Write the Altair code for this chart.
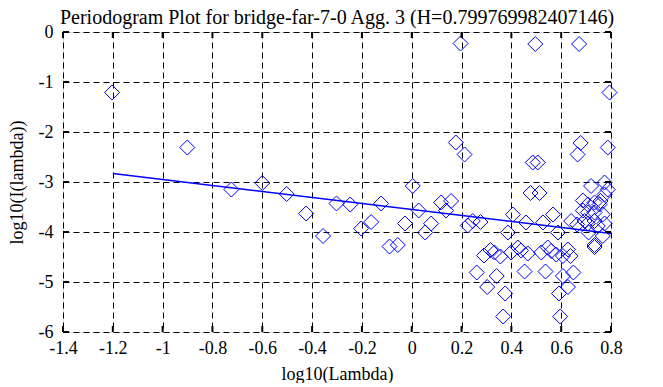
import altair as alt
import pandas as pd

# log10(Lambda) values of the periodogram points
x_vals = [
    -1.203, -0.901, -0.724, -0.600, -0.502, -0.424, -0.356, -0.302,
    0.196, 0.496, 0.672, 0.794, 0.177, 0.212, 0.486, 0.506, 0.678, 0.666, 0.787,
    -0.247, -0.123, -0.203, -0.163, -0.089, -0.056, 0.004, -0.027, 0.028, 0.054,
    0.078, 0.118, 0.158, 0.138,
    0.225, 0.245, 0.276, 0.386, 0.406, 0.459, 0.477, 0.513, 0.527, 0.567, 0.587,
    0.290, 0.316, 0.332, 0.356, 0.399, 0.426, 0.439, 0.466,
    0.520, 0.546, 0.560, 0.580, 0.607, 0.627, 0.637,
    0.261, 0.341, 0.303, 0.375, 0.367, 0.453, 0.537, 0.607, 0.649, 0.627, 0.591, 0.596,
    0.720, 0.774, 0.787, 0.774,
    0.687, 0.707, 0.734, 0.754, 0.758,
    0.687, 0.707, 0.734, 0.767,
    0.640, 0.664, 0.694, 0.707, 0.734, 0.747, 0.774,
    0.710, 0.767, 0.734, 0.734,
]
# log10(I(lambda)) values
y_vals = [
    -1.21, -2.31, -3.15, -3.02, -3.24, -3.63, -4.08, -3.43,
    -0.23, -0.24, -0.24, -1.21, -2.21, -2.45, -2.61, -2.61, -2.22, -2.45, -2.31,
    -3.45, -3.43, -3.93, -3.80, -4.29, -4.26, -3.08, -3.83, -3.57, -4.01,
    -3.83, -3.41, -3.38, -3.57,
    -3.87, -3.78, -3.80, -4.01, -3.65, -3.81, -3.22, -3.22, -3.81, -3.65, -4.01,
    -4.47, -4.36, -4.41, -4.49, -4.41, -4.31, -4.37, -4.43,
    -4.41, -4.31, -4.38, -4.45, -4.48, -4.35, -4.48,
    -4.81, -4.88, -5.10, -5.23, -5.69, -4.79, -4.79, -4.88, -4.81, -5.10, -5.23, -5.69,
    -3.08, -3.01, -3.15, -3.25,
    -3.37, -3.45, -3.41, -3.45, -3.38,
    -3.57, -3.61, -3.61, -3.65,
    -3.78, -3.85, -3.78, -3.83, -3.78, -3.88, -3.83,
    -4.01, -4.08, -4.26, -4.30,
]
# fitted line end points
fit_x = [-1.2, 0.8]
fit_y = [-2.83, -4.03]

x_ticks = [-1.4, -1.2, -1.0, -0.8, -0.6, -0.4, -0.2, 0.0, 0.2, 0.4, 0.6, 0.8]
y_ticks = [0, -1, -2, -3, -4, -5, -6]

title_text = "Periodogram Plot for bridge-far-7-0 Agg. 3 (H=0.799769982407146)"

FONT = "Liberation Serif"
W, H = 548, 300
BLUE = "#0000ff"

pts = pd.DataFrame({"x": x_vals, "y": y_vals})
fit = pd.DataFrame({"x": fit_x, "y": fit_y})
xt = pd.DataFrame({"x": x_ticks})
yt = pd.DataFrame({"y": y_ticks})

xscale = alt.Scale(domain=[-1.4, 0.8], nice=False, zero=False)
yscale = alt.Scale(domain=[-6, 0], nice=False, zero=False)

axis_style = dict(
    grid=True, gridColor="black", gridDash=[6, 4], gridWidth=1, gridOpacity=1,
    ticks=False, tickSize=0, domain=False,
    labelFont=FONT, labelFontSize=18, labelColor="black",
    labelFlush=False, labelOverlap=False, labelExpr="'' + datum.value",
    titleFont=FONT, titleFontSize=18, titleFontWeight="normal", titleColor="black",
)
xaxis = alt.Axis(
    values=x_ticks, title="log10(Lambda)", labelPadding=7,
    titleY=42, titleBaseline="middle", **axis_style,
)
yaxis = alt.Axis(
    values=y_ticks, title="log10(I(lambda))", labelPadding=10,
    titleX=-46, titleY=H / 2, titleBaseline="middle", titleAlign="center",
    titleAngle=-90, **axis_style,
)

points = alt.Chart(pts).mark_point(
    shape="diamond", filled=False, size=225, strokeWidth=1, color=BLUE, opacity=1
).encode(
    x=alt.X("x:Q", scale=xscale, axis=xaxis),
    y=alt.Y("y:Q", scale=yscale, axis=yaxis),
)

line = alt.Chart(fit).mark_line(color=BLUE, strokeWidth=1.5).encode(
    x=alt.X("x:Q", scale=xscale), y=alt.Y("y:Q", scale=yscale)
)

tick_style = dict(color="black", strokeWidth=2)
top_ticks = alt.Chart(xt).mark_rule(**tick_style).encode(
    x=alt.X("x:Q", scale=xscale), y=alt.value(0), y2=alt.value(6))
bot_ticks = alt.Chart(xt).mark_rule(**tick_style).encode(
    x=alt.X("x:Q", scale=xscale), y=alt.value(H - 6), y2=alt.value(H))
left_ticks = alt.Chart(yt).mark_rule(**tick_style).encode(
    y=alt.Y("y:Q", scale=yscale), x=alt.value(0), x2=alt.value(6))
right_ticks = alt.Chart(yt).mark_rule(**tick_style).encode(
    y=alt.Y("y:Q", scale=yscale), x=alt.value(W - 6), x2=alt.value(W))

chart = alt.layer(
    points, line, top_ticks, bot_ticks, left_ticks, right_ticks
).properties(
    width=W, height=H,
    title=alt.TitleParams(
        text=title_text, font=FONT, fontSize=20, fontWeight="normal",
        color="black", anchor="middle", offset=-5,
    ),
    autosize=alt.AutoSizeParams(type="pad"),
    padding={"left": 0, "top": 0, "right": 5, "bottom": 0},
).configure_axis(
    labelFont=FONT, titleFont=FONT, labelFontSize=18, titleFontSize=18,
).configure_title(
    font=FONT, fontSize=20, fontWeight="normal", color="black"
).configure_view(
    stroke="black", strokeWidth=2
).configure(background="white")

chart.save("out.html", embed_options={"renderer": "svg", "actions": False})
